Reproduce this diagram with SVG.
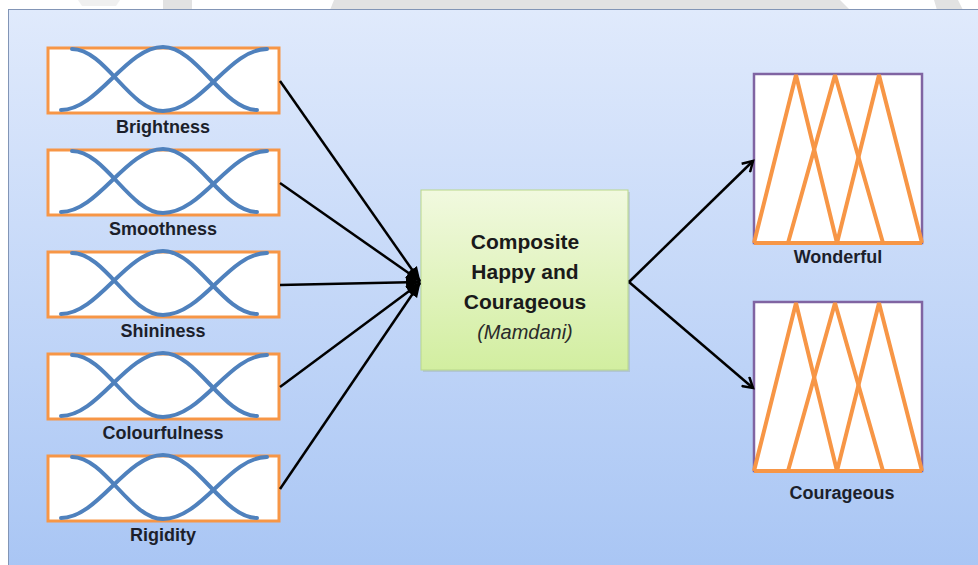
<svg xmlns="http://www.w3.org/2000/svg" xmlns:xlink="http://www.w3.org/1999/xlink" width="978" height="565" viewBox="0 0 978 565">
  <style>
    .label { font-family: "Liberation Sans", Arial, sans-serif; font-weight: bold; font-size: 18px; fill: #1c1f2b; text-anchor: middle; }
    .title { font-family: "Liberation Sans", Arial, sans-serif; font-weight: bold; font-size: 21px; fill: #1a1a1a; text-anchor: middle; }
    .method { font-family: "Liberation Sans", Arial, sans-serif; font-style: italic; font-size: 20px; fill: #2a2a2a; text-anchor: middle; }
    .inbox { fill: #ffffff; stroke: #f79646; stroke-width: 3; }
    .bell { fill: none; stroke: #4f81bd; stroke-width: 4; stroke-linecap: round; }
    .outbox { fill: #ffffff; stroke: #8064a2; stroke-width: 2.5; }
    .tri { fill: none; stroke: #f79646; stroke-width: 4; stroke-linejoin: bevel; }
    .wire-in { fill: none; stroke: #000000; stroke-width: 2.5; marker-end: url(#headSolid); }
    .wire-out { fill: none; stroke: #000000; stroke-width: 2.5; marker-end: url(#headOpen); }
  </style>
  <defs>
    <linearGradient id="panelFill" x1="0" y1="0" x2="0" y2="1">
      <stop offset="0" stop-color="#e0eafc"/>
      <stop offset="1" stop-color="#a8c5f4"/>
    </linearGradient>
    <linearGradient id="coreFill" x1="0" y1="0" x2="0" y2="1">
      <stop offset="0" stop-color="#f1f9df"/>
      <stop offset="1" stop-color="#d2eea0"/>
    </linearGradient>
    <marker id="headSolid" markerWidth="16" markerHeight="14" refX="14" refY="7" orient="auto" markerUnits="userSpaceOnUse">
      <path d="M0,1 L15,7 L0,13 Z" fill="#000000"/>
    </marker>
    <marker id="headOpen" markerWidth="14" markerHeight="14" refX="11" refY="7" orient="auto" markerUnits="userSpaceOnUse">
      <path d="M1,1 L11,7 L1,13" fill="none" stroke="#000000" stroke-width="2.5" stroke-linejoin="miter"/>
    </marker>
    <!-- two overlapping bell-shaped membership curves, box-relative -->
    <g id="bells">
      <path class="bell" d="M24,1 C57,1 82,63 115,63 C154,63 181,1 219,1"/>
      <path class="bell" d="M13,62 C50,62 78,-1 115,-1 C149,-1 175,62 209,62"/>
    </g>
    <!-- three overlapping triangular membership functions -->
    <g id="triangles">
      <path class="tri" d="M0,169 L168,169"/>
      <path class="tri" d="M0,169 L42,1 L83,169"/>
      <path class="tri" d="M34,169 L81,1 L129,169"/>
      <path class="tri" d="M83,169 L125,1 L168,169"/>
    </g>
  </defs>

  <!-- page strip above the panel -->
  <rect x="0" y="0" width="978" height="565" fill="#ffffff"/>
  <g fill="#e2e2e2">
    <path d="M163,0 L192,0 L192,10 L163,10 Z"/>
    <path d="M334,0 L840,0 L850,10 L330,10 Z"/>
    <path d="M934,0 L958,0 L963,10 L937,10 Z"/>
    <path d="M78,0 L120,0 L116,6 L82,6 Z" fill="#f0f0f0"/>
  </g>

  <!-- background panel -->
  <rect x="8.5" y="9.5" width="980" height="570" fill="url(#panelFill)" stroke="#8295b6" stroke-width="1"/>

  <!-- inputs -->
  <g id="brightness">
    <rect class="inbox" x="48" y="48" width="231" height="65"/>
    <use xlink:href="#bells" transform="translate(48,48)"/>
    <text class="label" x="163" y="133">Brightness</text>
  </g>
  <g id="smoothness">
    <rect class="inbox" x="48" y="150" width="231" height="65"/>
    <use xlink:href="#bells" transform="translate(48,150)"/>
    <text class="label" x="163" y="235">Smoothness</text>
  </g>
  <g id="shininess">
    <rect class="inbox" x="48" y="252" width="231" height="65"/>
    <use xlink:href="#bells" transform="translate(48,252)"/>
    <text class="label" x="163" y="337">Shininess</text>
  </g>
  <g id="colourfulness">
    <rect class="inbox" x="48" y="354" width="231" height="65"/>
    <use xlink:href="#bells" transform="translate(48,354)"/>
    <text class="label" x="163" y="439">Colourfulness</text>
  </g>
  <g id="rigidity">
    <rect class="inbox" x="48" y="456" width="231" height="65"/>
    <use xlink:href="#bells" transform="translate(48,456)"/>
    <text class="label" x="163" y="541">Rigidity</text>
  </g>

  <!-- inference engine -->
  <g id="engine">
    <rect x="423" y="192" width="207" height="180" fill="#8a9a70" opacity="0.25"/>
    <rect x="421" y="190" width="207" height="180" fill="url(#coreFill)" stroke="#b9d78c" stroke-width="1"/>
    <text class="title" x="525" y="249">Composite</text>
    <text class="title" x="525" y="279">Happy and</text>
    <text class="title" x="525" y="309">Courageous</text>
    <text class="method" x="525" y="339">(Mamdani)</text>
  </g>

  <!-- outputs -->
  <g id="wonderful">
    <rect class="outbox" x="754" y="74" width="168" height="169"/>
    <use xlink:href="#triangles" transform="translate(754,74)"/>
    <text class="label" x="838" y="263">Wonderful</text>
  </g>
  <g id="courageous">
    <rect class="outbox" x="754" y="302" width="168" height="169"/>
    <use xlink:href="#triangles" transform="translate(754,302)"/>
    <text class="label" x="842" y="499">Courageous</text>
  </g>

  <!-- connectors -->
  <g id="connectors">
    <line class="wire-in" x1="280" y1="81" x2="420" y2="281"/>
    <line class="wire-in" x1="280" y1="183" x2="420" y2="281"/>
    <line class="wire-in" x1="280" y1="285" x2="420" y2="282"/>
    <line class="wire-in" x1="280" y1="387" x2="420" y2="283"/>
    <line class="wire-in" x1="280" y1="489" x2="420" y2="283"/>
    <line class="wire-out" x1="629" y1="282" x2="753" y2="161"/>
    <line class="wire-out" x1="629" y1="282" x2="753" y2="388"/>
  </g>
</svg>
